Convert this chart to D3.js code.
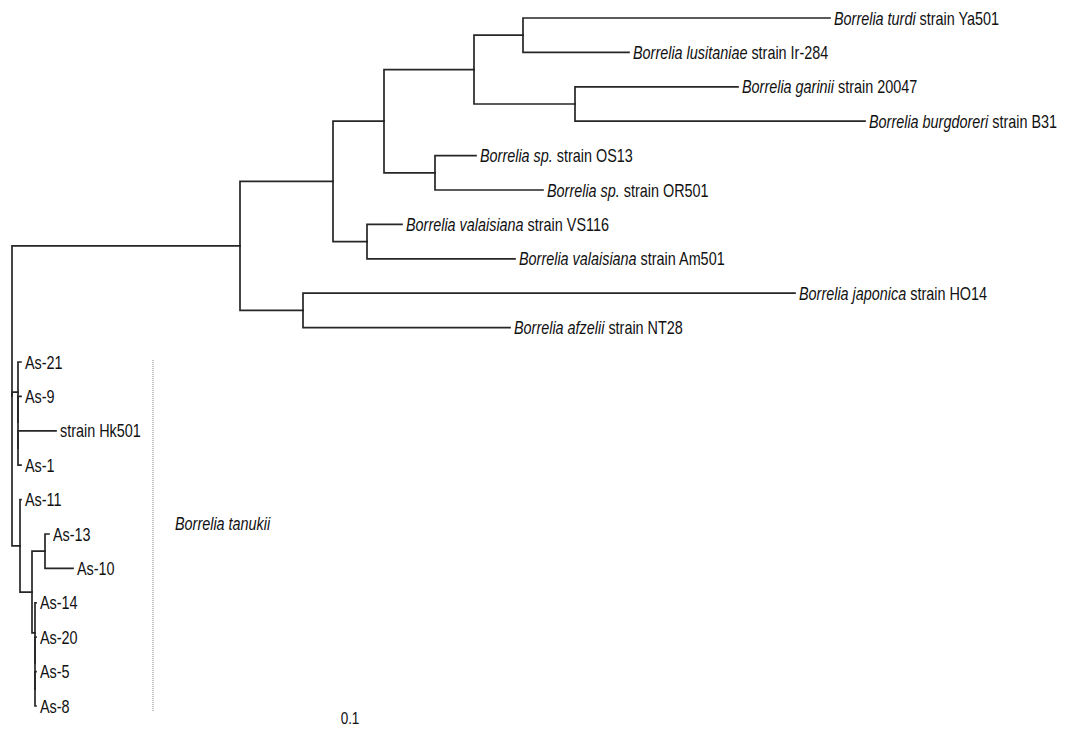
<!DOCTYPE html>
<html>
<head>
<meta charset="utf-8">
<script src="https://cdn.jsdelivr.net/npm/d3@7"></script>
<style>
  body { margin: 0; background: #fff; }
  svg text { font-family: "Liberation Sans", Arial, sans-serif; fill: #111; }
</style>
</head>
<body>
<svg id="chart" width="1075" height="733"></svg>
<script>
// tree nodes in preorder: id, parent, branch length (substitutions/site)
var nodeIds = ["root","A","B","C","D","E","turdi","lusitaniae","F","garinii","burgdoreri","G","OS13","OR501","H","VS116","Am501","I","japonica","afzelii",
               "J","As-21","J2","As-9","J3","Hk501","As-1","K","As-11","L","M","As-13","As-10","N","As-14","N2","As-20","N3","As-5","As-8"];
var parentIds = ["","root","A","B","C","D","E","E","D","F","F","C","G","G","B","H","H","A","I","I",
                 "root","J","J","J2","J2","J3","J3","root","K","K","L","M","M","L","N","N","N2","N2","N3","N3"];
var branchLengths = [0,0.228,0.093,0.051,0.090,0.049,0.307,0.106,0.101,0.163,0.290,0.051,0.041,0.108,0.034,0.035,0.148,0.063,0.492,0.207,
                     0.006,0.003,0,0.003,0,0.038,0.003,0.008,0.001,0.012,0.013,0.004,0.028,0.003,0.001,0,0.001,0,0.001,0.001];

// leaf labels: italic part and plain part
var leafIds = ["turdi","lusitaniae","garinii","burgdoreri","OS13","OR501","VS116","Am501","japonica","afzelii",
               "As-21","As-9","Hk501","As-1","As-11","As-13","As-10","As-14","As-20","As-5","As-8"];
var leafItalic = ["Borrelia turdi","Borrelia lusitaniae","Borrelia garinii","Borrelia burgdoreri","Borrelia sp.","Borrelia sp.",
                  "Borrelia valaisiana","Borrelia valaisiana","Borrelia japonica","Borrelia afzelii",
                  "","","","","","","","","","",""];
var leafPlain = [" strain Ya501"," strain Ir-284"," strain 20047"," strain B31"," strain OS13"," strain OR501",
                 " strain VS116"," strain Am501"," strain HO14"," strain NT28",
                 "As-21","As-9","strain Hk501","As-1","As-11","As-13","As-10","As-14","As-20","As-5","As-8"];

var cladeName = "Borrelia tanukii";
var scaleLabel = "0.1";

var svg = d3.select("#chart");

//condensed, slightly tall lettering like the original
var narrow = " scale(0.9,1.15)";

//build the hierarchy
var rows = nodeIds.map(function(id, i){ return {id: id, parent: parentIds[i], len: branchLengths[i]}; });
var root = d3.stratify().id(function(d){ return d.id; }).parentId(function(d){ return d.parent || null; })(rows);

root.eachBefore(function(n){
    n.dist = n.parent ? n.parent.dist + n.data.len : 0;
});

var x = d3.scaleLinear().domain([0, 0.851]).range([12, 863]);
var y = d3.scalePoint().domain(leafIds).range([18, 706]);

//internal nodes sit midway between first and last child
root.eachAfter(function(n){
    if (n.children){
        n.yPos = (n.children[0].yPos + n.children[n.children.length - 1].yPos) / 2;
    } else {
        n.yPos = y(n.id);
    }
});

//branches
svg.append("g")
    .selectAll("path")
    .data(root.links())
    .join("path")
    .attr("d", function(l){
        return "M" + x(l.source.dist) + "," + l.source.yPos + "V" + l.target.yPos + "H" + x(l.target.dist);
    })
    .attr("fill", "none")
    .attr("stroke", "#262626")
    .attr("stroke-width", 1.7)
    .attr("stroke-linecap", "square");

//leaf labels
var labels = svg.append("g")
    .selectAll("text")
    .data(root.leaves())
    .join("text")
    .attr("transform", function(d){ return "translate(" + (x(d.dist) + 4) + "," + d.yPos + ")" + narrow; })
    .attr("dy", "0.36em")
    .style("font-size", "16px");

labels.append("tspan")
    .style("font-style", "italic")
    .text(function(d){ return leafItalic[leafIds.indexOf(d.id)]; });
labels.append("tspan")
    .attr("xml:space", "preserve")
    .style("white-space", "pre")
    .text(function(d){ return leafPlain[leafIds.indexOf(d.id)]; });

//clade bracket for the tanukii group
var yTop = y("As-21") - 2, yBottom = y("As-8") + 6;
svg.append("line")
    .attr("x1", x(0.141)).attr("x2", x(0.141))
    .attr("y1", yTop).attr("y2", yBottom)
    .attr("stroke", "#888")
    .attr("stroke-width", 1)
    .attr("stroke-dasharray", "1,1");

svg.append("text")
    .attr("transform", "translate(" + x(0.163) + "," + ((yTop + yBottom) / 2 - 13) + ")" + narrow)
    .attr("dy", "0.36em")
    .style("font-size", "16px")
    .style("font-style", "italic")
    .text(cladeName);

//scale label
svg.append("text")
    .attr("transform", "translate(350,718)" + narrow)
    .attr("dy", "0.36em")
    .attr("text-anchor", "middle")
    .style("font-size", "15px")
    .text(scaleLabel);
</script>
</body>
</html>
